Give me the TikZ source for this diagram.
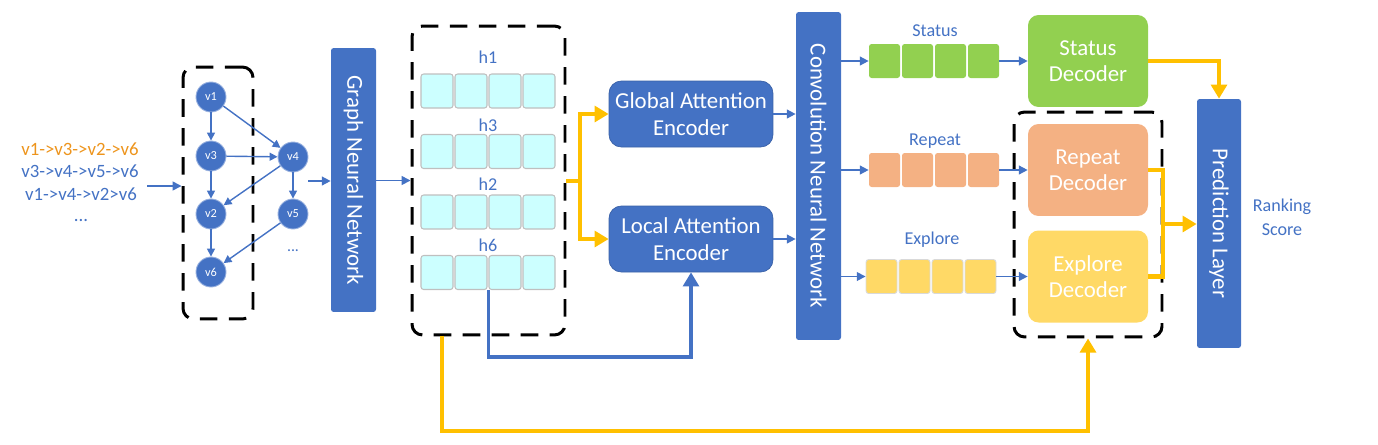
\documentclass[tikz,border=0pt]{standalone}
\usepackage{fontspec}
\setmainfont{Carlito}
\usetikzlibrary{arrows.meta}
\definecolor{obl}{HTML}{4472C4}
\definecolor{otxt}{RGB}{237,148,28}
\definecolor{ayel}{HTML}{FFC000}
\definecolor{cyanc}{HTML}{CCFFFF}
\definecolor{sgreen}{HTML}{92D050}
\definecolor{salm}{HTML}{F4B183}
\definecolor{lyel}{HTML}{FFD966}
\begin{document}
\begin{tikzpicture}[x=0.02cm,y=-0.02cm,
  bluebar/.style={fill=obl,draw=none,rounded corners=1.5pt,inner sep=0pt},
  vlabel/.style={text=white,rotate=-90,font=\fontsize{13}{15}\selectfont},
  enc/.style={fill=obl,draw=obl!85!black,line width=0.4pt,rounded corners=7pt,text=white,
    font=\fontsize{13}{15}\selectfont,align=center,minimum width=3.28cm,minimum height=1.32cm,inner sep=0pt},
  dec/.style={rounded corners=6pt,text=white,align=center,minimum width=2.4cm,minimum height=1.84cm,
    inner sep=0pt,font=\fontsize{13}{15}\selectfont},
  hcell/.style={fill=cyanc,draw=black!25,line width=0.6pt,rounded corners=1.5pt,minimum width=0.64cm,minimum height=0.68cm,inner sep=0pt},
  ccell/.style={rounded corners=1.5pt,minimum width=0.62cm,minimum height=0.68cm,inner sep=0pt},
  gnode/.style={circle,fill=obl,draw=obl!55!white,line width=0.5pt,minimum size=0.6cm,inner sep=0pt,text=white,font=\fontsize{7}{8}\selectfont},
  dbox/.style={draw=black,line width=1.7pt,dash pattern=on 10pt off 6.5pt,rounded corners=6pt,minimum width=#1,inner sep=0pt},
  barrow/.style={draw=obl,line width=0.9pt,-{Triangle[length=5pt,width=5pt]}},
  garrow/.style={draw=obl,line width=0.8pt,-{Triangle[length=4.5pt,width=4.5pt]}},
  yarrow/.style={draw=ayel,line width=2.3pt,-{Triangle[length=8pt,width=9pt]}},
  yline/.style={draw=ayel,line width=2.3pt},
  lbl/.style={text=obl,font=\fontsize{10.3}{12}\selectfont},
  seqtxt/.style={font=\fontsize{10.7}{12}\selectfont}
]
\useasboundingbox (0,0) rectangle (1378,444);

% left sequences
\node[seqtxt,text=otxt] (s1) at (80,149) {v1->v3->v2->v6};
\node[seqtxt,text=obl] (s2) at (80,171.5) {v3->v4->v5->v6};
\node[seqtxt,text=obl] (s3) at (81,194) {v1->v4->v2>v6};
\node[seqtxt,text=obl] (s4) at (81,220) {...};
\coordinate (la) at (147,186);

% graph box
\node[dbox=1.4cm,minimum height=5.04cm] (box1) at (218,193) {};
\node[gnode] (v1) at (211,97) {v1};
\node[gnode] (v3) at (211,156) {v3};
\node[gnode] (v2) at (211,214) {v2};
\node[gnode] (v6) at (211,272) {v6};
\node[gnode] (v4) at (293,157) {v4};
\node[gnode] (v5) at (293,214) {v5};
\node[text=obl,font=\fontsize{9}{10}\selectfont] (gdots) at (293,251) {...};
\draw[garrow] (v1) -- (v3);
\draw[garrow] (v3) -- (v2);
\draw[garrow] (v2) -- (v6);
\draw[garrow] (v1) -- (v4);
\draw[garrow] (v3) -- (v4);
\draw[garrow] (v4) -- (v2);
\draw[garrow] (v4) -- (v5);
\draw[garrow] (v5) -- (v6);
\draw[barrow] (la) -- (box1.west |- la);

% GNN
\node[bluebar,minimum width=0.9cm,minimum height=5.28cm,
  label={[vlabel]center:Graph Neural Network}] (gnn) at (353.5,180) {};
\coordinate (ga) at (308,181);
\draw[barrow] (ga) -- (gnn.west |- ga);

% hidden states box
\node[dbox=3.06cm,minimum height=6.18cm] (box2) at (488.5,180.5) {};
\foreach \r/\yy/\ty/\lab in {a/91/57/h1,b/151.5/125/h3,c/212/184/h2,d/272.5/245/h6}{
  \node[lbl] (lab\r) at (488,\ty) {\lab};
  \foreach \i in {1,2,3,4}{
    \node[hcell] (\r\i) at ({403+34*\i},\yy) {};
  }
}
\draw[barrow] (gnn.east |- box2.west) -- (box2.west);

% encoders
\node[enc] (glob) at (691,114) {Global Attention\\Encoder};
\node[enc] (loc) at (691,239) {Local Attention\\Encoder};
\coordinate (ysplit) at (580,181);
\draw[yline] (box2.east |- ysplit) -- (ysplit);
\draw[yarrow] (ysplit) |- (glob.west);
\draw[yarrow] (ysplit) |- (loc.west);
\coordinate (bl) at (490,357);
\draw[draw=obl,line width=1.8pt,-{Triangle[length=8pt,width=9pt]}] (d3.south west) -- (d3.south west |- bl) -| (loc.south);

% CNN
\node[bluebar,minimum width=0.9cm,minimum height=6.56cm,
  label={[vlabel]center:Convolution Neural Network}] (cnn) at (818.5,176) {};
\draw[barrow] (glob.east) -- (cnn.west |- glob.east);
\draw[barrow] (loc.east) -- (cnn.west |- loc.east);

% channel cells
\node[lbl] (lstat) at (935,31) {Status};
\node[lbl] (lrep) at (935,141) {Repeat};
\node[lbl] (lexp) at (932,240) {Explore};
\foreach \i in {1,2,3,4}{
  \node[ccell,fill=sgreen] (st\i) at ({851.5+33*\i},61) {};
  \node[ccell,fill=salm] (re\i) at ({851.5+33*\i},170) {};
  \node[ccell,fill=lyel,draw=black!15,line width=0.5pt] (ex\i) at ({848.5+33*\i},276.5) {};
}
\draw[barrow] (cnn.east |- st1.west) -- (st1.west);
\draw[barrow] (cnn.east |- re1.west) -- (re1.west);
\draw[barrow] (cnn.east |- ex1.west) -- (ex1.west);

% decoders
\node[dbox=2.96cm,minimum height=4.5cm] (box3) at (1088,224.5) {};
\node[dec,fill=sgreen] (sdec) at (1088,61) {Status\\Decoder};
\node[dec,fill=salm] (rdec) at (1088,170) {Repeat\\Decoder};
\node[dec,fill=lyel] (edec) at (1088,276.5) {Explore\\Decoder};
\draw[barrow] (st4.east) -- (sdec.west);
\draw[barrow] (re4.east) -- (rdec.west);
\draw[barrow] (ex4.east) -- (edec.west);

% prediction
\node[bluebar,minimum width=0.88cm,minimum height=4.98cm,
  label={[vlabel]center:Prediction Layer}] (pred) at (1219,223.5) {};
\node[lbl,align=center,font=\fontsize{10.3}{13.6}\selectfont] (rank) at (1282,217) {Ranking\\Score};

\draw[yarrow] (sdec.east) -| (pred.north);
\coordinate (rj) at (1163,224);
\draw[yline] (rdec.east) -| (rj) |- (edec.east);
\draw[yarrow] (rj) -- (pred.west |- rj);

% long bottom yellow
\coordinate (yb) at (442,431);
\draw[yarrow] (box2.south -| yb) -- (yb) -| (box3.south);
\end{tikzpicture}
\end{document}
